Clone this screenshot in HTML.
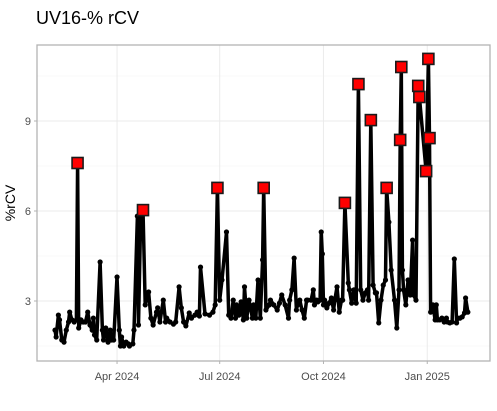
<!DOCTYPE html>
<html><head><meta charset="utf-8">
<style>
body{margin:0;background:#fff;font-family:"Liberation Sans",sans-serif}
svg text{font-family:"Liberation Sans",sans-serif}
</style></head>
<body>
<svg id="chart" width="497" height="406" viewBox="0 0 497 406" xmlns="http://www.w3.org/2000/svg">
<rect width="497" height="406" fill="#fff"/>
<text x="36" y="24" font-size="18" fill="#000">UV16-% rCV</text>
<text transform="translate(15,203) rotate(-90)" text-anchor="middle" font-size="14" fill="#000">%rCV</text>
<g id="grid"></g>
<g id="series"></g>
<rect x="37" y="45" width="453" height="316" fill="none" stroke="#b3b3b3" stroke-width="1.3"/>
<g id="axes"></g>
</svg>
<script>
// days since 2024-01-01
const days=[36,37,39,40,42,44,46,48,49,51,53,55,56,57,59,61,63,65,67,69,70,71,73,76,78,79,81,83,85,86,88,91,93,94,95,97,99,101,102,105,106,109,110,112,114,116,118,119,121,123,126,127,129,132,134,135,138,141,143,146,148,150,152,155,157,160,162,164,165,169,173,176,178,180,182,184,188,190,192,194,196,197,199,201,203,204,206,208,211,212,214,216,218,220,221,223,226,227,230,233,235,237,240,243,244,246,248,250,251,253,255,257,259,260,263,265,266,268,269,271,272,273,274,275,277,279,281,283,284,286,288,290,291,293,296,297,299,301,303,305,307,309,311,313,314,316,318,320,321,323,325,327,329,330,332,334,337,339,341,342,343,344,345,347,349,351,353,354,356,358,359,365,367,368,369,371,373,374,375,377,379,381,383,384,386,388,390,392,393,395,397,399,400,402];
const values=[2.03,1.8,2.53,2.37,1.7,1.63,2.03,2.3,2.63,2.37,2.3,2.37,7.6,2.1,2.37,2.3,2.3,2.63,2.2,2.03,2.43,1.87,1.7,4.3,2.03,1.7,2.1,1.63,2.03,1.7,1.7,3.8,2.03,1.5,1.8,1.5,1.63,1.57,1.5,1.57,2.03,5.83,2.2,5.83,6.03,2.87,3.17,3.3,2.43,2.2,2.63,2.77,2.3,3.03,2.3,2.43,2.3,2.23,2.3,3.47,2.77,2.3,2.17,2.6,2.43,2.53,2.63,2.5,4.13,2.57,2.53,2.63,2.87,6.77,3.03,3.7,5.3,2.53,2.43,3.03,2.43,2.87,2.53,2.97,2.37,3.47,2.43,3.03,2.43,2.87,2.43,3.7,2.43,4.37,6.77,2.7,2.87,3.03,2.87,2.7,2.93,3.2,2.87,2.43,3.03,3.37,4.43,2.7,2.87,3.03,2.7,2.43,3.03,3.03,3.03,3.37,2.87,3.03,2.97,3.03,5.3,4.57,2.87,3.03,2.77,2.93,3.1,2.7,3.03,3.47,2.63,3.03,3.03,6.27,3.6,3.37,2.93,3.37,2.93,10.23,3.37,3.03,3.27,3.37,3.03,9.03,3.53,3.27,3.27,2.27,3.03,3.53,3.7,6.77,5.63,4.03,3.03,2.1,3.37,8.37,10.8,4.03,3.37,2.87,3.7,3.2,5.03,3.2,3.03,10.17,9.8,7.33,11.07,8.43,2.63,2.87,2.37,2.87,2.37,2.37,2.43,2.3,2.43,2.3,2.27,2.3,4.4,2.27,2.43,2.43,2.47,2.6,3.1,2.63];
const yTicks=[3,6,9];
const xTickDays=[91,182,274,366];
const xTickLabels=["Apr 2024","Jul 2024","Oct 2024","Jan 2025"];
const threshold=6;

const NS="http://www.w3.org/2000/svg";
const xs=d=>14.4+d*1.128;
const ys=v=>391-v*30;
function mk(tag,attrs,parent){const e=document.createElementNS(NS,tag);for(const k in attrs)e.setAttribute(k,attrs[k]);parent.appendChild(e);return e;}
const grid=document.getElementById('grid'),axes=document.getElementById('axes'),series=document.getElementById('series');
// minor gridlines
[1.5,4.5,7.5,10.5].forEach(v=>{const l=mk('line',{x1:37,x2:490,y1:ys(v),y2:ys(v),stroke:'#f3f3f3','stroke-width':0.6},grid);

});
yTicks.forEach(v=>{const l=mk('line',{x1:37,x2:490,y1:ys(v),y2:ys(v),stroke:'#ebebeb','stroke-width':1},grid);


const t=mk('text',{x:31,y:ys(v)+4,'text-anchor':'end','font-size':11,fill:'#4d4d4d'},axes);t.textContent=v;


const tk=mk('line',{x1:34,x2:37,y1:ys(v),y2:ys(v),stroke:'#b3b3b3'},axes);

});
xTickDays.forEach((d,i)=>{const l=mk('line',{x1:xs(d),x2:xs(d),y1:45,y2:361,stroke:'#ebebeb','stroke-width':1},grid);


const t=mk('text',{x:xs(d),y:380,'text-anchor':'middle','font-size':11,fill:'#4d4d4d'},axes);t.textContent=xTickLabels[i];


const tk=mk('line',{x1:xs(d),x2:xs(d),y1:361,y2:364,stroke:'#b3b3b3'},axes);

});
const pts=days.map((d,i)=>xs(d).toFixed(1)+','+ys(values[i]).toFixed(1)).join(' ');
const line=mk('polyline',{points:pts,fill:'none',stroke:'#000','stroke-width':3.5,'stroke-linejoin':'round'},series);


days.forEach((d,i)=>{const c=mk('circle',{cx:xs(d),cy:ys(values[i]),r:2.6,fill:'#000'},series);

});
days.forEach((d,i)=>{if(values[i]>threshold){const r=mk('rect',{x:xs(d)-5.5,y:ys(values[i])-5.5,width:11,height:11,fill:'#ff0000',stroke:'#1a1a1a','stroke-width':1.6},series);

}});
</script>
</body></html>
